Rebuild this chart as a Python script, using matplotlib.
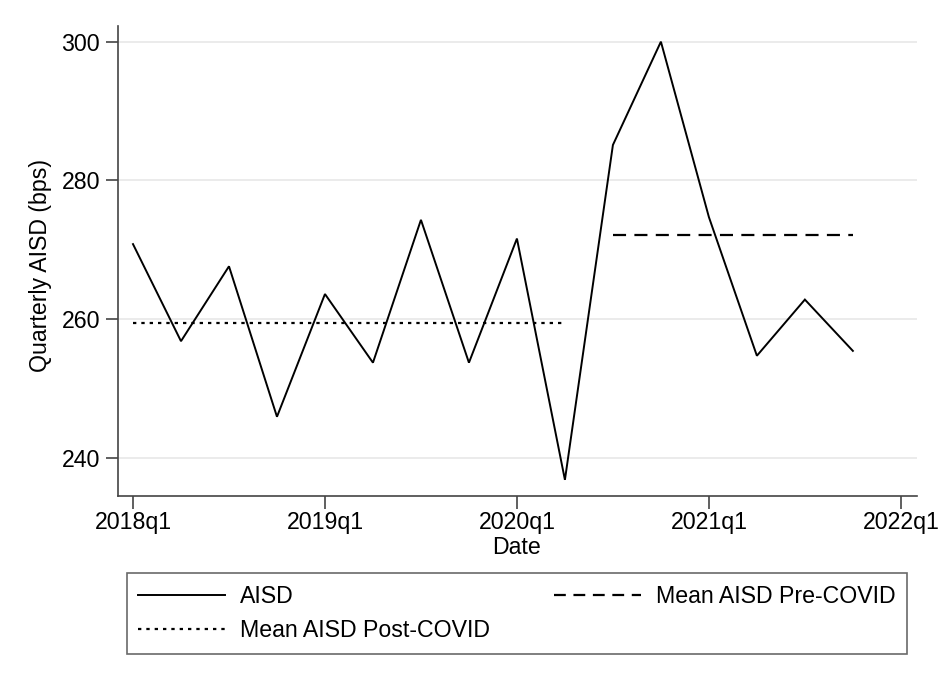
import numpy as np
import matplotlib
matplotlib.use("Agg")
import matplotlib.pyplot as plt
from matplotlib.lines import Line2D

plt.rcParams['font.family'] = ['Liberation Sans', 'DejaVu Sans']
plt.rcParams['lines.scale_dashes'] = False

# ---- data ----
quarters = ["2018q1", "2018q2", "2018q3", "2018q4",
            "2019q1", "2019q2", "2019q3", "2019q4",
            "2020q1", "2020q2", "2020q3", "2020q4",
            "2021q1", "2021q2", "2021q3", "2021q4"]
aisd = [270.8, 256.8, 267.6, 245.9,
        263.6, 253.7, 274.3, 253.7,
        271.6, 236.8, 285.1, 300.0,
        274.7, 254.7, 262.8, 255.4]
n_pre = 10  # 2018q1 .. 2020q2
tick_labels = ["2018q1", "2019q1", "2020q1", "2021q1", "2022q1"]
tick_pos = [0, 4, 8, 12, 16]
yticks = [240, 260, 280, 300]

x = np.arange(len(aisd))
aisd = np.array(aisd)
mean_first = np.mean(aisd[:n_pre])
mean_second = np.mean(aisd[n_pre:])

W, H = 942, 675
fig = plt.figure(figsize=(W / 100, H / 100), dpi=100)
ax = fig.add_axes([118 / W, 1 - 496 / H, (916.7 - 118) / W, (496 - 26) / H])

fs = 16.7
lw = 1.4
ax.plot(x, aisd, color='black', lw=lw, solid_joinstyle='miter', zorder=3)
ax.plot(x[:n_pre], [mean_first] * n_pre, color='black', lw=lw * 1.15,
        dashes=(2.4, 3.6), zorder=2)
ax.plot(x[n_pre:], [mean_second] * (len(x) - n_pre), color='black', lw=lw * 1.15,
        dashes=(9.4, 6.0), zorder=2)

ax.set_xlim(-0.3125, 16.33)
ax.set_ylim(234.47, 302.26)
ax.set_xticks(tick_pos)
ax.set_xticklabels(tick_labels)
ax.set_yticks(yticks)
ax.grid(axis='y', color='#e6e6e6', lw=1.1, zorder=0)
ax.set_axisbelow(True)
for s in ['top', 'right']:
    ax.spines[s].set_visible(False)
for s in ['left', 'bottom']:
    ax.spines[s].set_color('#444444')
    ax.spines[s].set_linewidth(1.2)
ax.tick_params(axis='both', labelsize=fs, length=9, width=1.2, color='#444444')
ax.tick_params(axis='x', pad=2)
ax.tick_params(axis='y', pad=4)

fig.text(41 / W, 1 - 266 / H, "Quarterly AISD (bps)", rotation=90,
         ha='center', va='center', fontsize=fs)
fig.text(517 / W, 1 - 548 / H, "Date", ha='center', va='center', fontsize=fs)

h_solid = Line2D([], [], color='black', lw=lw)
h_dot = Line2D([], [], color='black', lw=lw * 1.15, dashes=(2.4, 3.6))
h_dash = Line2D([], [], color='black', lw=lw * 1.15, dashes=(8.5, 5.5))
leg = fig.legend([h_solid, h_dot, h_dash],
                 ["AISD", "Mean AISD Post-COVID", "Mean AISD Pre-COVID"],
                 ncol=2, loc='upper left', bbox_to_anchor=(126.7 / W, 1 - 573.3 / H),
                 borderaxespad=0, fontsize=fs, frameon=True, fancybox=False,
                 handlelength=3.75, handletextpad=0.65, columnspacing=2.75,
                 labelspacing=0.48, borderpad=0.5)
leg.get_frame().set_edgecolor('#444444')
leg.get_frame().set_linewidth(1.2)

fig.savefig("out.png", dpi=100, facecolor='white')
